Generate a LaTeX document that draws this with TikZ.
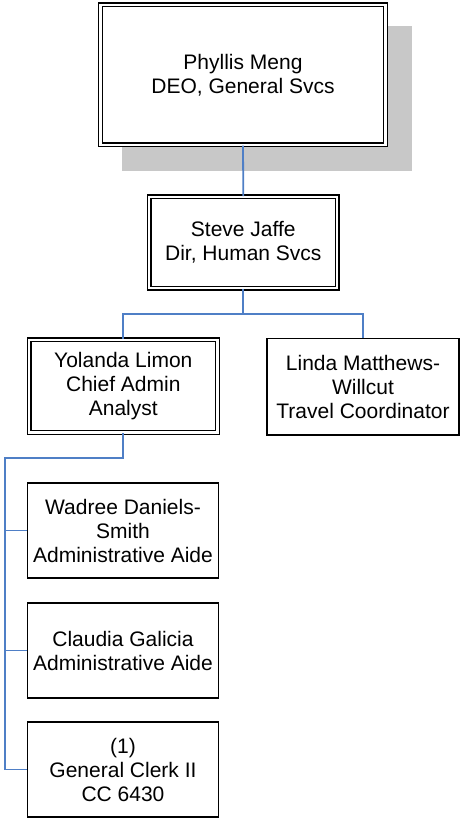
\documentclass[tikz,border=0pt]{standalone}
\usepackage{fontspec}
\setmainfont{Liberation Sans}
\definecolor{connblue}{HTML}{4F7FC6}
\definecolor{shadowgray}{HTML}{C8C8C8}
\begin{document}
\begin{tikzpicture}[x=1pt,y=-1pt,
  every node/.style={font=\fontsize{21}{24}\selectfont, align=center, inner sep=0pt},
  dbox/.style={draw=black, double=white, double distance=2.3pt, line width=1.35pt, fill=white},
  sbox/.style={draw=black, line width=1.5pt, fill=white},
  conn/.style={draw=connblue, line width=1.8pt}]
\useasboundingbox (0,0) rectangle (460,818);
\fill[shadowgray] (122,26) rectangle (412,171);
\node[dbox, minimum width=285pt, minimum height=140pt] (top) at (243,75) {Phyllis Meng\\DEO, General Svcs};
\node[dbox, minimum width=188pt, minimum height=91.5pt] (steve) at (243.3,242.5) {Steve Jaffe\\Dir, Human Svcs};
\node[dbox, minimum width=188.3pt, minimum height=92.7pt] (yol) at (123.3,386.2) {Yolanda Limon\\Chief Admin\\Analyst};
\node[sbox, minimum width=192pt, minimum height=96.5pt] (linda) at (363,386.7) {Linda Matthews-\\Willcut\\Travel Coordinator};
\node[sbox, minimum width=191pt, minimum height=95pt] (wad) at (123,530.5) {Wadree Daniels-\\Smith\\Administrative Aide};
\node[sbox, minimum width=191pt, minimum height=95pt] (cla) at (123,650.5) {Claudia Galicia\\Administrative Aide};
\node[sbox, minimum width=191pt, minimum height=95pt] (gen) at (123,769.5) {(1)\\General Clerk II\\CC 6430};
\coordinate (bus1) at (243.3,314);
\coordinate (bus2) at (123.3,458);
\coordinate (rail) at (5,458);
\draw[conn] (top.south) -- (steve.north);
\draw[conn] (steve.south) -- (bus1) -| (yol.north);
\draw[conn] (bus1) -| (linda.north);
\draw[conn] (yol.south) -- (bus2) -- (rail) |- (gen.west);
\draw[conn, line width=1.4pt] (rail |- wad.west) -- (wad.west);
\draw[conn, line width=1.4pt] (rail |- cla.west) -- (cla.west);
\end{tikzpicture}
\end{document}
